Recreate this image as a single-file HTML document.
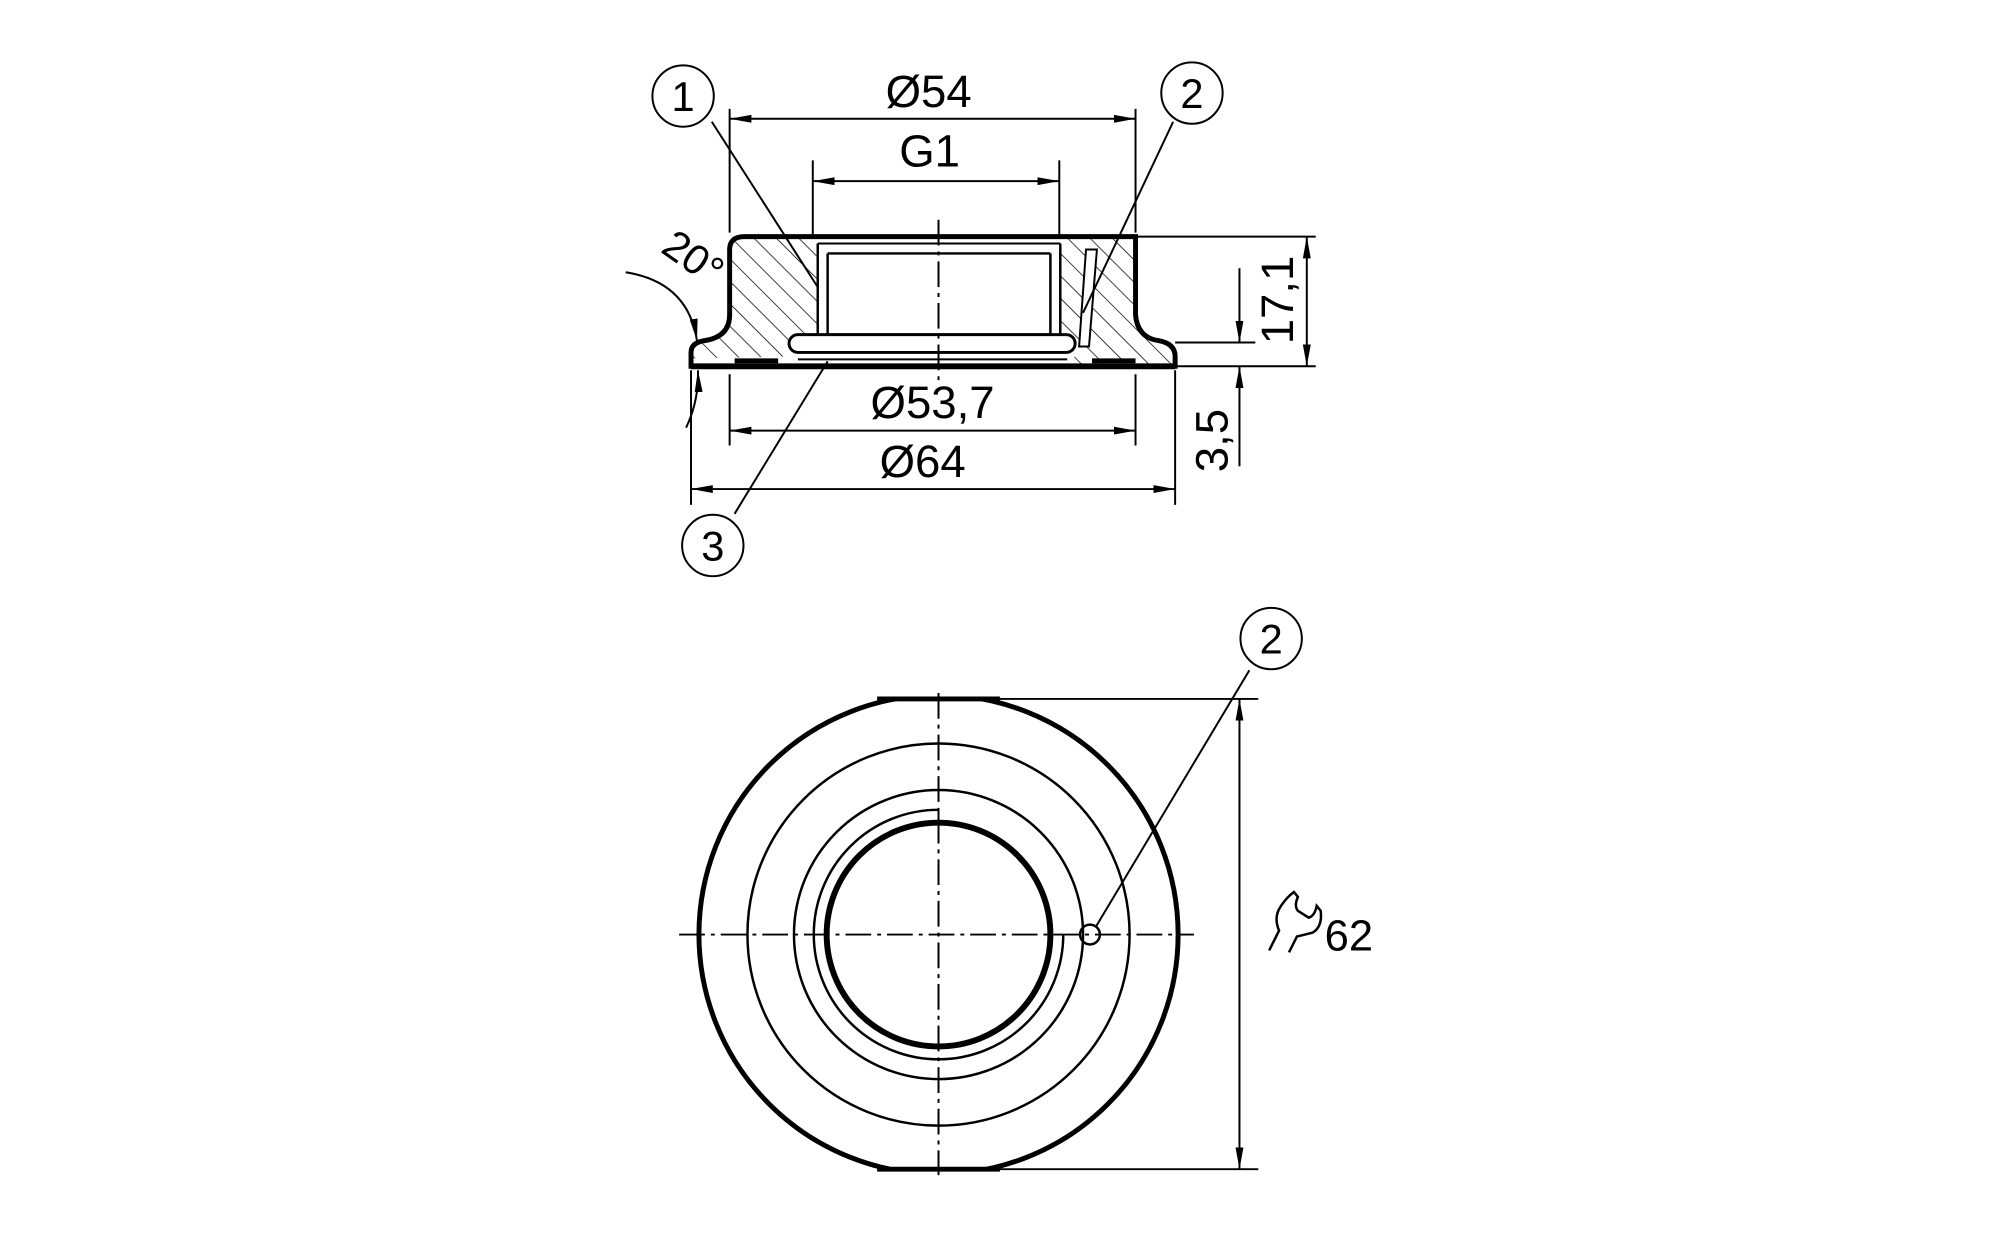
<!DOCTYPE html>
<html><head><meta charset="utf-8"><style>
html,body{margin:0;padding:0;background:#fff;overflow:hidden}
svg{display:block}
text{font-family:"Liberation Sans",sans-serif;fill:#000}
</style></head><body>
<svg width="2000" height="1238" viewBox="0 0 2000 1238" xmlns="http://www.w3.org/2000/svg">
<defs>
<pattern id="h" patternUnits="userSpaceOnUse" width="16" height="16" patternTransform="rotate(-45)">
<line x1="0" y1="0" x2="0" y2="16" stroke="#000" stroke-width="1.5"/>
</pattern>
<marker id="a" viewBox="0 0 22 8" refX="22" refY="4" markerWidth="22" markerHeight="8" markerUnits="userSpaceOnUse" orient="auto-start-reverse">
<path d="M0,0 L22,4 L0,8 z" fill="#000"/>
</marker>
<clipPath id="c"><rect x="600" y="706" width="700" height="475"/></clipPath>
</defs>
<g transform="scale(0.99)">
<g stroke="#000" fill="none">
<path d="M752,239 L826,239 L826,338 L800,338 Q790,348 800,360 L700,362 L700,352 Q705,346 722,343 Q737,338 737,320 L737,252 Q737,239 752,239 Z" fill="url(#h)" stroke="none"/>
<path d="M1071,239 L1147,239 L1147,318 Q1150,340 1170,343 Q1187,348 1187,360 L1187,370 L1080,368 Q1095,350 1083,338 L1071,338 Z" fill="url(#h)" stroke="none"/>
<path d="M1097,252 L1108,252 L1100,350 L1090,350 Z" fill="#fff" stroke="#000" stroke-width="2"/>
<path d="M737,370 L698,370 L698,356 Q698,346 712,344 Q737,340 737,318 L737,252 Q737,239 752,239 L1147,239 L1147,318 Q1149,341 1170,344 Q1187,347 1187,360 L1187,370 Z" stroke-width="5"/>
<line x1="698" y1="370" x2="1187" y2="370" stroke-width="6"/>
<rect x="826" y="246" width="245" height="92" fill="#fff" stroke="none"/>
<line x1="826" y1="246" x2="826" y2="338" stroke-width="2.5"/>
<line x1="836" y1="256" x2="836" y2="338" stroke-width="2.5"/>
<line x1="1071" y1="246" x2="1071" y2="338" stroke-width="2.5"/>
<line x1="1061" y1="256" x2="1061" y2="338" stroke-width="2.5"/>
<line x1="826" y1="246" x2="1071" y2="246" stroke-width="2"/>
<line x1="836" y1="256" x2="1061" y2="256" stroke-width="2.5"/>
<line x1="836" y1="338" x2="1061" y2="338" stroke-width="2.5"/>
<rect x="797" y="338" width="289" height="18" rx="9" fill="#fff" stroke-width="3"/>
<line x1="806" y1="363" x2="1078" y2="363" stroke-width="2"/>
<rect x="742" y="362" width="44" height="5" fill="#000" stroke="none"/>
<rect x="1103" y="362" width="44" height="5" fill="#000" stroke="none"/>
<line x1="948" y1="222" x2="948" y2="385" stroke-width="2" stroke-dasharray="26,6,4,6"/>
<g stroke-width="2">
<line x1="737" y1="110" x2="737" y2="235"/>
<line x1="1147" y1="110" x2="1147" y2="235"/>
<line x1="821" y1="162" x2="821" y2="240"/>
<line x1="1070" y1="162" x2="1070" y2="240"/>
<line x1="737" y1="378" x2="737" y2="450"/>
<line x1="1147" y1="378" x2="1147" y2="450"/>
<line x1="698" y1="374" x2="698" y2="510"/>
<line x1="1187" y1="374" x2="1187" y2="510"/>
<line x1="1147" y1="239" x2="1329" y2="239"/>
<line x1="1187" y1="370" x2="1329" y2="370"/>
<line x1="1187" y1="346" x2="1268" y2="346"/>
<line x1="737" y1="120" x2="1147" y2="120" marker-start="url(#a)" marker-end="url(#a)"/>
<line x1="821" y1="183" x2="1070" y2="183" marker-start="url(#a)" marker-end="url(#a)"/>
<line x1="737" y1="435" x2="1147" y2="435" marker-start="url(#a)" marker-end="url(#a)"/>
<line x1="698" y1="494" x2="1187" y2="494" marker-start="url(#a)" marker-end="url(#a)"/>
<line x1="1320" y1="239" x2="1320" y2="370" marker-start="url(#a)" marker-end="url(#a)"/>
<line x1="1252" y1="271" x2="1252" y2="346" marker-end="url(#a)"/>
<line x1="1252" y1="471" x2="1252" y2="370" marker-end="url(#a)"/>
<path d="M632,275 Q695,285 704,344" marker-end="url(#a)"/>
<path d="M693,432 Q706,405 705,374" marker-end="url(#a)"/>
<line x1="719" y1="123" x2="826" y2="290"/>
<line x1="1185" y1="123" x2="1094" y2="316"/>
<line x1="742" y1="519" x2="836" y2="365"/>
<circle cx="690" cy="97" r="31"/>
<circle cx="1204" cy="94" r="31"/>
<circle cx="720" cy="551" r="31"/>
</g>
</g>
<text x="690" y="112" font-size="42" text-anchor="middle">1</text>
<text x="1204" y="109" font-size="42" text-anchor="middle">2</text>
<text x="720" y="566" font-size="42" text-anchor="middle">3</text>
<text x="938" y="108" font-size="46" text-anchor="middle">Ø54</text>
<text x="939" y="168" font-size="46" text-anchor="middle">G1</text>
<text x="942" y="422" font-size="46" text-anchor="middle">Ø53,7</text>
<text x="932" y="482" font-size="46" text-anchor="middle">Ø64</text>
<text transform="translate(1306,303) rotate(-90)" font-size="46" text-anchor="middle">17,1</text>
<text transform="translate(1240,445) rotate(-90)" font-size="46" text-anchor="middle">3,5</text>
<text transform="translate(692,272) rotate(35)" font-size="42" text-anchor="middle">20°</text>

<g stroke="#000" fill="none">
<circle cx="948" cy="944" r="242" stroke-width="5" clip-path="url(#c)"/>
<line x1="886" y1="706" x2="1010" y2="706" stroke-width="5"/>
<line x1="886" y1="1181" x2="1010" y2="1181" stroke-width="5"/>
<circle cx="948" cy="944" r="193" stroke-width="2.5"/>
<circle cx="948" cy="944" r="146" stroke-width="2.5"/>
<path d="M948,818 A126,126 0 1 0 1074,944" stroke-width="2.5"/>
<line x1="948" y1="818" x2="948" y2="828" stroke-width="2"/>
<circle cx="948" cy="944" r="113" stroke-width="6"/>
<circle cx="1101" cy="944" r="10" stroke-width="2.5"/>
<line x1="686" y1="944" x2="1206" y2="944" stroke-width="2" stroke-dasharray="26,6,4,6"/>
<line x1="948" y1="700" x2="948" y2="1187" stroke-width="2" stroke-dasharray="26,6,4,6"/>
<line x1="996" y1="706" x2="1271" y2="706" stroke-width="2"/>
<line x1="996" y1="1181" x2="1271" y2="1181" stroke-width="2"/>
<line x1="1252" y1="706" x2="1252" y2="1181" stroke-width="2" marker-start="url(#a)" marker-end="url(#a)"/>
<line x1="1262" y1="677" x2="1107" y2="936" stroke-width="2"/>
<circle cx="1284" cy="645" r="31" stroke-width="2"/>
<path d="M1282,960 L1292,940 Q1286,926 1294,915 Q1300,906 1307,901 L1311,906 Q1307,915 1311,920 L1322,927 Q1328,925 1330,915 L1334,920 Q1336,936 1326,942 L1310,946 L1302,962" stroke-width="2.5"/>
</g>
<text x="1284" y="660" font-size="42" text-anchor="middle">2</text>
<text x="1338" y="960" font-size="44">62</text>
</g>
</svg>
</body></html>
